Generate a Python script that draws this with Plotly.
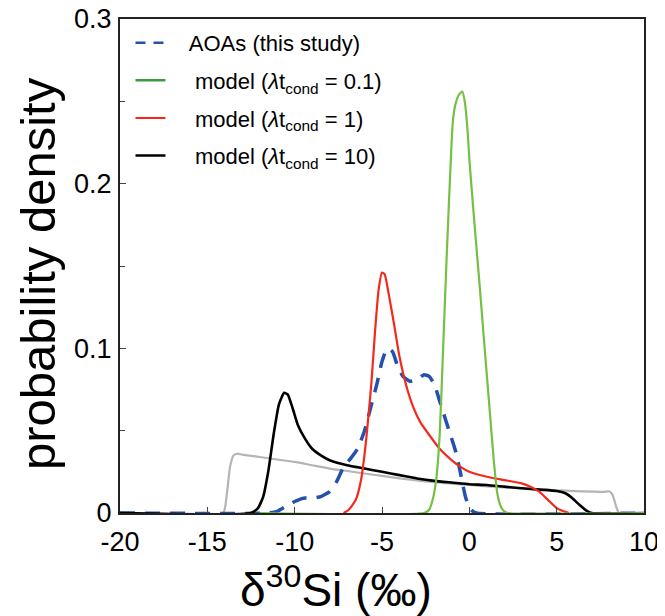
import plotly.graph_objects as go

# ---------------- data ----------------
gray_x = [-20, -14.1, -13.9, -13.7, -13.5, -13.3, -13.0, -12, -11, -10, -9, -8, -7, -6, -5, -4, -3, -2, -1,
          0, 1, 2, 3, 4, 5, 6, 7, 7.7, 8.0, 8.2, 8.4, 8.55]
gray_y = [0, 0, 0.010, 0.028, 0.035, 0.036, 0.0355, 0.034, 0.0325, 0.031, 0.029, 0.027, 0.0255, 0.024, 0.0225,
          0.021, 0.0198, 0.0187, 0.0178, 0.017, 0.0162, 0.0155, 0.0149, 0.0143, 0.0138, 0.0133, 0.013, 0.0128,
          0.0132, 0.011, 0.004, 0]

aoa_x = [-20, -11.5, -11, -10.5, -10, -9.5, -9, -8.5, -8, -7.6, -7.2, -6.8, -6.4, -6, -5.6, -5.3, -5.0, -4.7,
         -4.4, -4.1, -3.8, -3.4, -3.0, -2.6, -2.3, -2.0, -1.7, -1.4, -1.1, -0.8, -0.5, -0.2, 0.1, 0.4, 10]
aoa_y = [0, 0, 0.001, 0.004, 0.007, 0.009, 0.009, 0.010, 0.013, 0.019, 0.028, 0.033, 0.039, 0.050, 0.066,
         0.078, 0.092, 0.100, 0.098, 0.089, 0.083, 0.080, 0.081, 0.084, 0.083, 0.078, 0.068, 0.058, 0.048,
         0.038, 0.024, 0.009, 0.002, 0, 0]

k10_x = [-20, -12.5, -12.1, -11.8, -11.5, -11.2, -10.9, -10.6, -10.4, -10.1, -9.8, -9.4, -9.0, -8.5, -8.0,
         -7, -6, -5, -4, -3, -2, -1, 0, 1, 2, 3, 4, 5, 5.5, 5.9, 6.3, 6.7, 7.0, 10]
k10_y = [0, 0, 0.003, 0.010, 0.026, 0.048, 0.066, 0.073, 0.072, 0.063, 0.053, 0.045, 0.039, 0.035, 0.032,
         0.029, 0.027, 0.025, 0.023, 0.021, 0.0195, 0.0185, 0.0175, 0.017, 0.016, 0.015, 0.0142, 0.0134,
         0.012, 0.009, 0.005, 0.0015, 0, 0]

k1_x = [-7.2, -6.9, -6.5, -6.2, -5.9, -5.6, -5.4, -5.2, -5.0, -4.85, -4.6, -4.3, -4.0, -3.6, -3.2, -2.8,
        -2.2, -1.7, -1.0, -0.5, 0, 1, 2, 3, 3.5, 4, 4.5, 5, 5.4, 5.7]
k1_y = [0, 0.002, 0.008, 0.020, 0.045, 0.080, 0.110, 0.135, 0.146, 0.145, 0.132, 0.114, 0.095, 0.077, 0.064,
        0.055, 0.046, 0.039, 0.032, 0.028, 0.025, 0.022, 0.020, 0.018, 0.016, 0.013, 0.008, 0.003, 0.001, 0]

k01_x = [-12, -2.6, -2.3, -2.1, -1.9, -1.7, -1.5, -1.3, -1.1, -0.95, -0.8, -0.6, -0.4, -0.25, -0.1, 0, 0.3,
         0.6, 0.9, 1.2, 1.4, 1.6, 1.8, 2.0, 2.2, 10]
k01_y = [0, 0, 0.002, 0.008, 0.020, 0.047, 0.100, 0.155, 0.205, 0.237, 0.248, 0.254, 0.256, 0.249, 0.232,
         0.215, 0.175, 0.137, 0.097, 0.058, 0.032, 0.012, 0.004, 0.001, 0, 0]

x_ticks = [-20, -15, -10, -5, 0, 5, 10]
y_ticks = [0, 0.1, 0.2, 0.3]
y_tick_labels = ["0", "0.1", "0.2", "0.3"]

legend_names = ["AOAs (this study)",
                "model (<i>λ</i>t<sub>cond</sub> = 0.1)",
                "model (<i>λ</i>t<sub>cond</sub> = 1)",
                "model (<i>λ</i>t<sub>cond</sub> = 10)"]
legend_pad = [3, 4, 4, 4]
x_title = "δ<sup>30</sup>Si (‰)"
y_title = "probability density"

# ---------------- styles ----------------
C_GRAY = "#b4b4b4"
C_BLUE = "#2451b0"
C_BLACK = "#000000"
C_RED = "#f5281c"
C_GREEN = "#76bf45"
C_GREEN_LEG = "#3c9c3c"

FONT = "Liberation Sans, Arial, Helvetica, sans-serif"

# page offset of the plot div (default body margin)
OFF = 8
L, T = 120 - OFF, 19 - OFF
PW, PH = 524, 494
W, H = 665, 616

fig = go.Figure()
sp = dict(shape="spline", smoothing=0.5)

fig.add_trace(go.Scatter(x=gray_x, y=gray_y, mode="lines", showlegend=False,
                         line=dict(color=C_GRAY, width=2.2, **sp), hoverinfo="skip"))
fig.add_trace(go.Scatter(x=aoa_x, y=aoa_y, mode="lines", showlegend=False,
                         line=dict(color=C_BLUE, width=3.5, dash="15px,10px", **sp)))
fig.add_trace(go.Scatter(x=k10_x, y=k10_y, mode="lines", showlegend=False,
                         line=dict(color=C_BLACK, width=2.6, **sp)))
fig.add_trace(go.Scatter(x=k1_x, y=k1_y, mode="lines", showlegend=False,
                         line=dict(color=C_RED, width=2.2, **sp)))
fig.add_trace(go.Scatter(x=k01_x, y=k01_y, mode="lines", showlegend=False,
                         line=dict(color=C_GREEN, width=2.2, **sp)))

# legend-only entries
leg_styles = [dict(color=C_BLUE, width=2.5, dash="10px,8px"),
              dict(color=C_GREEN_LEG, width=2.5),
              dict(color=C_RED, width=2),
              dict(color=C_BLACK, width=2.5)]
for i, (nm, st, pd) in enumerate(zip(legend_names, leg_styles, legend_pad)):
    fig.add_trace(go.Scatter(x=[None], y=[None], mode="lines", name="\u00a0" * pd + nm, line=st,
                             legendgroup=f"g{i}", showlegend=True))

axis_common = dict(showline=True, linecolor="#222222", linewidth=2, mirror=True,
                   showgrid=False, zeroline=False, ticks="inside", ticklen=6,
                   tickcolor="#444444", tickwidth=1, automargin=False,
                   ticklabeloverflow="allow",
                   tickfont=dict(family=FONT, size=27, color="#000000"))

fig.update_layout(
    width=W, height=H,
    margin=dict(l=L, r=W - L - PW, t=T, b=H - T - PH, autoexpand=False),
    paper_bgcolor="white", plot_bgcolor="white",
    font=dict(family=FONT, color="#000000"),
    xaxis=dict(range=[-20, 10], tickvals=x_ticks, ticktext=[str(v) for v in x_ticks],
               ticklabelstandoff=4, **axis_common),
    yaxis=dict(range=[0, 0.3], tickvals=y_ticks, ticktext=y_tick_labels,
               minor=dict(tickvals=[0.05, 0.15, 0.25], ticks="inside", ticklen=5, tickcolor="#444444"),
               ticklabelstandoff=1, **axis_common),
    legend=dict(x=0.02, y=0.994, xanchor="left", yanchor="top",
                bgcolor="rgba(0,0,0,0)", borderwidth=0, tracegroupgap=6,
                font=dict(family=FONT, size=22, color="#000000")),
    showlegend=True,
    annotations=[
        dict(text=x_title, xref="paper", yref="paper", x=(336 - 120) / PW, y=(513 - 587) / PH,
             xanchor="center", yanchor="middle", showarrow=False,
             font=dict(family=FONT, size=46, color="#000000")),
        dict(text=y_title, xref="paper", yref="paper", x=(38 - 120) / PW, y=(513 - 274) / PH,
             xanchor="center", yanchor="middle", showarrow=False, textangle=-90,
             font=dict(family=FONT, size=49, color="#000000")),
    ],
)

fig.write_html("out.html")
